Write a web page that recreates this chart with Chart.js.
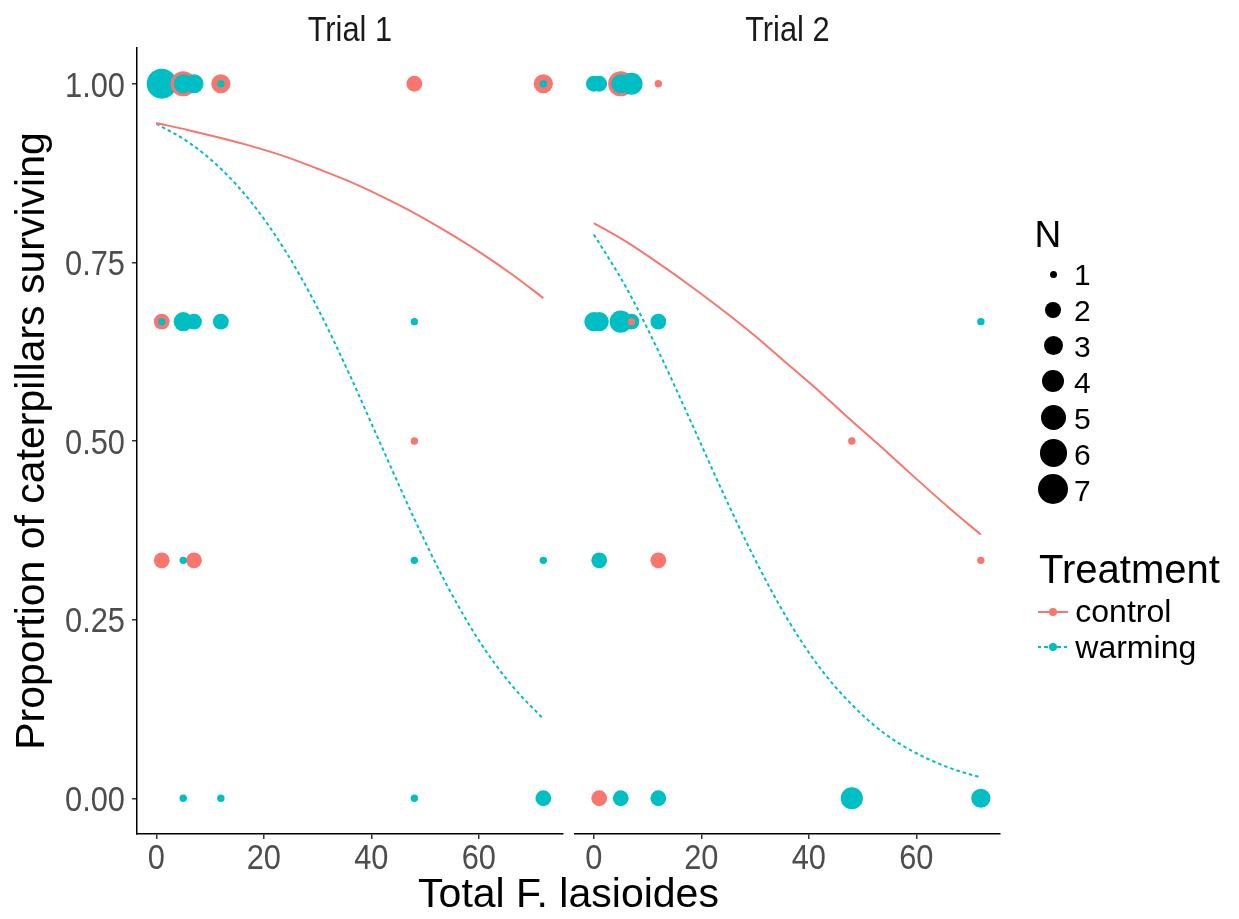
<!DOCTYPE html>
<html>
<head>
<meta charset="utf-8">
<title>Caterpillar survival</title>
<script src="https://cdn.jsdelivr.net/npm/chart.js@4.4.1/dist/chart.umd.min.js"></script>
<style>
    html, body { margin: 0; padding: 0; background: #fff; }
    #wrap { position: relative; width: 1239px; height: 919px; overflow: hidden; font-family: 'Liberation Sans', Arial, sans-serif; }
    #wrap canvas { position: absolute; left: 0; top: 0; }
    .txt { position: absolute; white-space: nowrap; line-height: 1; color: #000; }
    .dot { position: absolute; border-radius: 50%; }
    .key { position: absolute; height: 2px; width: 30px; }
</style>
</head>
<body>
<div id="wrap">
    <canvas id="trial1" width="1239" height="919"></canvas>
    <canvas id="trial2" width="1239" height="919"></canvas>
    <div class="txt" id="xTitle" style="left:0; width:1137px; top:873px; font-size:41px; text-align:center;">Total F. lasioides</div>
    <div id="legend"></div>
</div>
<script>
// axis breaks
const xTicks = [0, 20, 40, 60];
const yTicks = [0, 0.25, 0.5, 0.75, 1];
const trials = ['Trial 1', 'Trial 2'];
const treatments = ['control', 'warming'];
const nBreaks = [1, 2, 3, 4, 5, 6, 7];

// observations: [total F. lasioides, proportion surviving, N]
const trial1Control = [
    [5, 1, 5], [12, 1, 3], [48, 1, 2], [72, 1, 3],
    [1, 0.667, 2],
    [48, 0.5, 1],
    [1, 0.333, 2], [7, 0.333, 2]
];
const trial1Warming = [
    [1, 1, 7], [5, 1, 3], [7, 1, 3], [12, 1, 1], [72, 1, 1],
    [1, 0.667, 1], [5, 0.667, 3], [7, 0.667, 2], [12, 0.667, 2], [48, 0.667, 1],
    [5, 0.333, 1], [48, 0.333, 1], [72, 0.333, 1],
    [5, 0, 1], [12, 0, 1], [48, 0, 1], [72, 0, 2]
];
const trial2Control = [
    [5, 1, 5], [12, 1, 1],
    [7, 0.667, 1],
    [48, 0.5, 1],
    [12, 0.333, 2], [72, 0.333, 1],
    [1, 0, 2]
];
const trial2Warming = [
    [0, 1, 2], [1, 1, 2], [5, 1, 3], [7, 1, 4],
    [0, 0.667, 3], [1, 0.667, 3], [5, 0.667, 4], [7, 0.667, 2], [12, 0.667, 2], [72, 0.667, 1],
    [1, 0.333, 2],
    [5, 0, 2], [12, 0, 2], [48, 0, 4], [72, 0, 3]
];

// fitted survival curves
const fitX = [0, 6, 12, 18, 24, 30, 36, 42, 48, 54, 60, 66, 72];
const trial1ControlFit = [0.945, 0.935, 0.924, 0.912, 0.898, 0.881, 0.863, 0.842, 0.819, 0.793, 0.765, 0.734, 0.700];
const trial1WarmingFit = [0.944, 0.918, 0.881, 0.831, 0.766, 0.686, 0.592, 0.491, 0.391, 0.299, 0.221, 0.159, 0.111];
const trial2ControlFit = [0.805, 0.779, 0.749, 0.717, 0.683, 0.647, 0.608, 0.569, 0.528, 0.488, 0.447, 0.407, 0.369];
const trial2WarmingFit = [0.789, 0.715, 0.626, 0.528, 0.428, 0.334, 0.251, 0.183, 0.131, 0.091, 0.063, 0.043, 0.029];

const colors = { control: '#F8766D', warming: '#00BFC4' };
// point radius (px) for each N
const sizeRadius = [0, 3.7, 7.9, 9.6, 11.1, 12.6, 13.8, 15];
const FONT = "'Liberation Sans', Arial, sans-serif";
const SQUASH = 0.88;   // tick and strip text is set narrow

function bubbles(control, warming) {
    var pts = [];
    control.forEach(p => pts.push({ x: p[0], y: p[1], r: sizeRadius[p[2]], c: colors.control }));
    warming.forEach(p => pts.push({ x: p[0], y: p[1], r: sizeRadius[p[2]], c: colors.warming }));
    // big ones first so the small ones stay visible on top
    pts.sort((a, b) => b.r - a.r);
    return pts;
}

function fitLine(values, color, dashed) {
    return {
        type: 'line',
        data: fitX.map((x, i) => ({ x: x, y: values[i] })),
        borderColor: color,
        borderWidth: 2,
        borderDash: dashed ? [3.5, 3] : [],
        pointRadius: 0,
        fill: false,
        tension: 0.4,
        cubicInterpolationMode: 'monotone',
        order: 1
    };
}

function narrowText(ctx, text, x, y, align) {
    ctx.save();
    ctx.translate(x, y);
    ctx.scale(SQUASH, 1);
    ctx.textAlign = align;
    ctx.textBaseline = 'alphabetic';
    ctx.fillText(text, 0, 0);
    ctx.restore();
}

// strip title plus tick labels, drawn narrow
const panelText = {
    id: 'panelText',
    afterDraw(chart, args, opts) {
        const ctx = chart.ctx, area = chart.chartArea;
        const sx = chart.scales.x, sy = chart.scales.y;
        ctx.save();
        ctx.font = '35px ' + FONT;
        ctx.fillStyle = '#1A1A1A';
        narrowText(ctx, opts.text, (area.left + area.right) / 2, 40.5, 'center');

        ctx.fillStyle = '#4D4D4D';
        xTicks.forEach(v => narrowText(ctx, String(v), sx.getPixelForValue(v), sx.top + 35, 'center'));
        if (opts.yLabels) {
            yTicks.forEach(v => narrowText(ctx, v.toFixed(2), sy.right - 12, sy.getPixelForValue(v) + 12.8, 'right'));
        }
        ctx.restore();
    }
};

function panel(id, idx, control, warming, controlFit, warmingFit, padding) {
    var first = idx === 0;
    var pts = bubbles(control, warming);
    var tickGrid = { display: true, drawOnChartArea: false, drawTicks: true, tickLength: 5, color: '#333', lineWidth: 1.5 };
    return new Chart(document.getElementById(id), {
        type: 'bubble',
        data: {
            datasets: [
                fitLine(controlFit, colors.control, false),
                fitLine(warmingFit, colors.warming, true),
                {
                    type: 'bubble',
                    data: pts,
                    backgroundColor: pts.map(p => p.c),
                    borderWidth: 0,
                    hoverRadius: 0,
                    order: 2
                }
            ]
        },
        options: {
            responsive: false,
            animation: false,
            events: [],
            layout: { padding: padding },
            plugins: {
                legend: { display: false },
                tooltip: { enabled: false },
                panelText: { text: trials[idx], yLabels: first }
            },
            scales: {
                x: {
                    type: 'linear',
                    min: -3.6,
                    max: 75.6,
                    afterBuildTicks: s => { s.ticks = xTicks.map(v => ({ value: v })); },
                    afterFit: s => { s.height = 85; },
                    grid: tickGrid,
                    border: { display: true, color: '#000', width: 1.5 },
                    ticks: { display: false }
                },
                y: {
                    type: 'linear',
                    display: first,
                    min: -0.05,
                    max: 1.05,
                    afterBuildTicks: s => { s.ticks = yTicks.map(v => ({ value: v })); },
                    afterFit: s => { s.width = first ? 137 : 0; },
                    grid: tickGrid,
                    border: { display: true, color: '#000', width: 1.5 },
                    ticks: { display: false },
                    title: {
                        display: true,
                        text: 'Proportion of caterpillars surviving',
                        font: { family: FONT, size: 41 },
                        color: '#000',
                        padding: { top: 8, bottom: 0 }
                    }
                }
            }
        },
        plugins: [panelText]
    });
}

panel('trial1', 0, trial1Control, trial1Warming, trial1ControlFit, trial1WarmingFit,
    { left: 0, right: 1239 - 562.7, top: 48, bottom: 0 });
panel('trial2', 1, trial2Control, trial2Warming, trial2ControlFit, trial2WarmingFit,
    { left: 574.5, right: 1239 - 1000.2, top: 48, bottom: 0 });

// legend: point size (N) and treatment
var legend = document.getElementById('legend');
function add(html) { legend.insertAdjacentHTML('beforeend', html); }

add('<div class="txt" style="left:1034.5px; top:216px; font-size:37px;">N</div>');
nBreaks.forEach(function (n, i) {
    var cy = 274.3 + 35.7 * i, r = sizeRadius[n];
    add('<div class="dot" style="background:#000; left:' + (1053.3 - r) + 'px; top:' + (cy - r) + 'px; width:' + (2 * r) + 'px; height:' + (2 * r) + 'px;"></div>');
    add('<div class="txt" style="left:1074px; top:' + (285.7 + 35.9 * i - 25.4) + 'px; font-size:30px;">' + n + '</div>');
});

add('<div class="txt" style="left:1039px; top:549.4px; font-size:40px;">Treatment</div>');
treatments.forEach(function (t, i) {
    var cy = 611.7 + 35.6 * i, col = colors[t];
    var bg = i === 0 ? col : 'repeating-linear-gradient(to right, ' + col + ' 0 3.5px, transparent 3.5px 6.5px)';
    add('<div class="key" style="left:1038px; top:' + (cy - 1) + 'px; background:' + bg + ';"></div>');
    add('<div class="dot" style="background:' + col + '; left:' + (1053.3 - 4) + 'px; top:' + (cy - 4) + 'px; width:8px; height:8px;"></div>');
    add('<div class="txt" style="left:1075.3px; top:' + (622.3 + 36 * i - 27.1) + 'px; font-size:32px;">' + t + '</div>');
});
</script>
</body>
</html>
